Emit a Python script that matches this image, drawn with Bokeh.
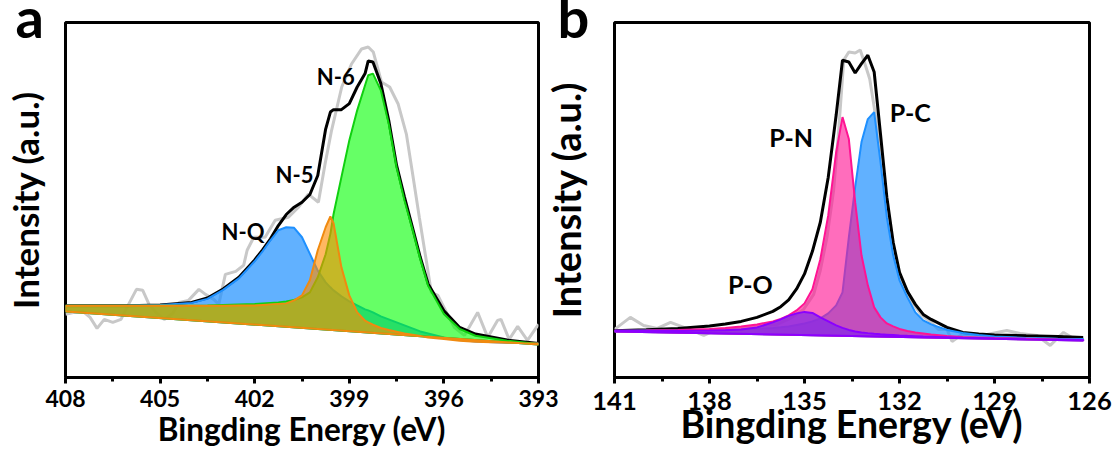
from bokeh.plotting import figure
from bokeh.models import Range1d, FixedTicker
from bokeh.layouts import row
from bokeh.embed import file_html
from bokeh.resources import INLINE
from bokeh.core.properties import value

FONT = "Lato"

# ---------------- Panel a : N 1s ----------------
a_raw_x = [408.0, 407.72, 407.45, 407.22, 407.0, 406.77, 406.5, 406.24, 406.0, 405.75,
           405.55, 405.35, 405.1, 404.87, 404.6, 404.4, 404.1, 403.77, 403.56, 403.3,
           403.14, 402.93, 402.6, 402.35, 402.24, 402.03, 401.67, 401.35, 400.93, 400.61,
           400.3, 399.98, 399.77, 399.56, 399.24, 398.93, 398.61, 398.4, 398.24, 397.98,
           397.72, 397.45, 397.19, 397.0, 396.78, 396.56, 396.4, 396.19, 395.87, 395.67,
           395.35, 394.93, 394.61, 394.3, 394.19, 393.93, 393.66, 393.35, 393.0]
a_raw_y = [63, 65, 66, 60, 49, 58, 55, 58, 73, 88,
           87, 73, 64, 58, 64, 75, 77, 88, 83, 78,
           73, 103, 106, 112, 127, 140, 140, 157, 160, 170,
           183, 175, 213, 247, 290, 313, 328, 330, 325, 295,
           290, 273, 243, 205, 160, 117, 85, 82, 62, 50,
           42, 65, 40, 57, 58, 38, 51, 37, 53]

a_fit_x = [408, 407, 406, 405, 404, 403.5, 403, 402.5, 402, 401.75,
           401.5, 401.25, 401, 400.75, 400.5, 400.25, 400, 399.75, 399.6, 399.5,
           399.25, 399, 398.75, 398.5, 398.4, 398.25, 398, 397.75, 397.5, 397.25,
           397, 396.75, 396.5, 396, 395.5, 395, 394, 393]
a_envelope = [71.7, 71.7, 71.7, 72.4, 75.0, 79.4, 88.4, 100.0, 117.4, 127.4,
              138.4, 151.7, 162.7, 170.0, 175.0, 182.7, 201.7, 248, 265, 267.4,
              267.4, 273.4, 290, 303.4, 316, 315, 293.4, 256.7, 211.7, 180.0,
              150.0, 120.0, 93.4, 66.7, 50.0, 43.4, 37.4, 34.0]
a_nq = [71.7, 71.7, 72, 72.5, 74.5, 78.5, 87.5, 99, 116, 126,
        137, 147, 150, 149.4, 140, 123.4, 106.7, 95, 90, 87,
        81, 76, 72, 68, 67, 65, 61, 58, 55, 52,
        49, 46, 44, 40, 37.5, 36, 34.7, 34]
a_n5 = [71.7, 71.7, 71.7, 71.7, 71.7, 71.7, 71.7, 72, 72, 72.5,
        73, 73.5, 74, 77, 82, 97, 127, 150, 160.7, 154,
        110, 82, 65, 56.7, 55, 52.7, 49.4, 47.4, 45.7, 44,
        42.7, 41.4, 40, 38.4, 36.7, 35.7, 34.7, 34]
a_n6 = [71.7, 71.7, 71.7, 71.7, 71.7, 72, 72.5, 73, 73.5, 74,
        74.5, 75, 76, 77.4, 80, 85, 100, 123, 143.4, 163,
        200, 236.7, 266.7, 291.7, 301.7, 303.4, 286.7, 253.4, 210.0, 176.7,
        148.4, 118.4, 91.7, 63.4, 48.4, 41.7, 36.7, 33.4]
a_bg_x = [408, 393]
a_bg_y = [66, 33]
a_labels = ["N-Q", "N-5", "N-6"]
a_lab_x = [402.37, 400.74, 399.43]
a_lab_y = [146, 203, 300]
a_ticks = [408, 405, 402, 399, 396, 393]
a_minor = [406.5, 403.5, 400.5, 397.5, 394.5]

# ---------------- Panel b : P 2p ----------------
b_raw_x = [141.0, 140.5, 140.08, 139.65, 139.23, 138.81, 138.18, 137.76, 136.92, 136.29,
           135.87, 135.45, 135.03, 134.71, 134.5, 134.29, 134.08, 133.92, 133.76, 133.6,
           133.4, 133.24, 133.06, 132.94, 132.7, 132.5, 132.3, 132.1, 131.9, 131.6,
           131.3, 131.0, 130.77, 130.5, 130.34, 130.08, 129.24, 128.61, 128.19, 127.66,
           127.24, 126.82, 126.5, 126.19]
b_raw_y = [48, 60, 52, 49, 55, 50, 42, 48, 49, 52,
           53, 59, 68, 83, 107, 140, 187, 247, 317, 325,
           324, 327, 310, 298, 250, 200, 150, 115, 92, 75,
           62, 55, 48, 48, 36, 42, 43, 47, 44, 42,
           32, 45, 39, 39]

b_fit_x = [141, 140, 139, 138, 137.5, 137, 136.5, 136, 135.75, 135.5,
           135.25, 135, 134.75, 134.5, 134.25, 134, 133.8, 133.6, 133.4, 133.2,
           133, 132.8, 132.6, 132.4, 132.2, 132, 131.75, 131.5, 131.25, 131,
           130.5, 130, 129.5, 129, 128, 127, 126.2]
b_envelope = [46.7, 47.7, 49, 51.4, 53.4, 56, 60, 66, 70.7, 77.4,
              88.4, 103.4, 126, 155, 200, 262, 316.7, 315, 304, 313.4,
              321.7, 305, 243, 180, 135, 105, 86, 73, 63, 58,
              50, 45, 43.5, 42.5, 41.7, 41, 40]
b_pc = [46.7, 46.8, 47, 47.3, 47.6, 48, 48.6, 49.5, 50.2, 51,
        52.5, 54, 56, 59, 64, 72, 85, 140, 190, 235,
        258, 265, 215, 160, 122, 97, 80, 65, 57, 53,
        47.5, 44.5, 42.5, 41, 39.5, 38.8, 38.4]
b_pn = [46.7, 47, 47.5, 48.5, 49.5, 51, 53, 56, 58.5, 62,
        67, 74, 88, 118, 162, 225, 260, 238, 175, 122,
        92, 70, 60, 54, 51, 48.5, 46.5, 45, 44, 43,
        41.5, 40.5, 40, 39.5, 38.8, 38, 37.5]
b_po = [46.7, 46.6, 46.6, 46.8, 47.2, 48, 50, 55, 58, 61.5,
        64, 65.5, 64.5, 60, 56, 52, 49.5, 47.5, 46, 45,
        44.3, 43.7, 43.2, 42.8, 42.4, 42, 41.6, 41.3, 41, 40.8,
        40.3, 39.8, 39.4, 39, 38.3, 37.8, 37.4]
b_bg_x = [141, 126.2]
b_bg_y = [46, 37]
b_labels = ["P-N", "P-O", "P-C"]
b_lab_x = [135.42, 136.71, 131.66]
b_lab_y = [240, 93, 265]
b_ticks = [141, 138, 135, 132, 129, 126]
b_minor = [139.5, 136.5, 133.5, 130.5, 127.5]


def make_panel(xr, width, mbl, mbr, ticks, minor, tick_px, tick_standoff, title_px,
               title_standoff, ylab_px, ylab_standoff, letter, letter_offset):
    p = figure(width=width, height=452, x_range=Range1d(*xr), y_range=Range1d(0, 354.4),
               output_backend="svg", toolbar_location=None,
               min_border_left=mbl, min_border_right=mbr,
               min_border_top=22, min_border_bottom=75)
    p.outline_line_color = "black"
    p.outline_line_width = 3
    p.outline_line_alpha = 1
    p.xgrid.grid_line_color = None
    p.ygrid.grid_line_color = None
    p.background_fill_color = "white"
    p.border_fill_color = "white"

    # panel letter as the plot title, hung from the top edge, left of the frame
    p.title.text = letter
    p.title.align = "left"
    p.title.vertical_align = "top"
    p.title.offset = letter_offset
    p.title.standoff = -80
    p.title.text_font = FONT
    p.title.text_font_style = "bold"
    p.title.text_font_size = "56px"
    p.title.text_line_height = 1.25
    p.title.text_color = "black"

    xa = p.xaxis[0]
    xa.ticker = FixedTicker(ticks=ticks, minor_ticks=minor)
    xa.axis_line_width = 3
    xa.axis_line_color = "black"
    xa.major_tick_line_width = 3
    xa.minor_tick_line_width = 3
    xa.major_tick_out = 6
    xa.major_tick_in = 0
    xa.minor_tick_out = 4
    xa.minor_tick_in = 0
    xa.major_label_text_font = FONT
    xa.major_label_text_font_style = "bold"
    xa.major_label_text_font_size = f"{tick_px}px"
    xa.major_label_text_color = "black"
    xa.major_label_standoff = tick_standoff
    xa.axis_label = "Bingding Energy (eV)"
    xa.axis_label_text_font = FONT
    xa.axis_label_text_font_style = "bold"
    xa.axis_label_text_font_size = f"{title_px}px"
    xa.axis_label_text_color = "black"
    xa.axis_label_standoff = title_standoff

    ya = p.yaxis[0]
    ya.ticker = FixedTicker(ticks=[])
    ya.axis_line_color = None
    ya.major_tick_line_color = None
    ya.minor_tick_line_color = None
    ya.major_tick_out = 0
    ya.major_tick_in = 0
    ya.major_label_standoff = 0
    ya.axis_label = "Intensity (a.u.)"
    ya.axis_label_text_font = FONT
    ya.axis_label_text_font_style = "bold"
    ya.axis_label_text_font_size = f"{ylab_px}px"
    ya.axis_label_text_color = "black"
    ya.axis_label_standoff = ylab_standoff
    return p


# ---------------- build panel a ----------------
pa = make_panel((408, 393), 562, 63, 24, a_ticks, a_minor, 23, 6, 31.5, 0,
                35, 20, "a", -50)
pa.line(a_raw_x, a_raw_y, line_color="#C8C8C8", line_width=3)
pa.line(a_fit_x, a_envelope, line_color="black", line_width=3)
for comp, fc, fa, lc in [(a_nq, "#1E90FF", 0.7, "#1E90FF"),
                         (a_n6, "#00FF00", 0.6, "#10D010"),
                         (a_n5, "#FF8C00", 0.62, "#F08A10")]:
    pa.patch(list(a_fit_x) + a_bg_x[::-1], list(comp) + a_bg_y[::-1],
             fill_color=fc, fill_alpha=fa, line_color=lc, line_width=2)
pa.text(x=a_lab_x, y=a_lab_y, text=a_labels, text_font=value(FONT),
        text_font_style="bold", text_font_size="22px", text_align="center",
        text_baseline="alphabetic", text_color="black")

# ---------------- build panel b ----------------
pb = make_panel((141, 126), 575, 76, 24, b_ticks, b_minor, 25.5, 8, 37.5, -12,
                38, 26, "b", -57)
pb.border_fill_color = None
pb.styles = {"margin-left": "-24px"}
pb.line(b_raw_x, b_raw_y, line_color="#C8C8C8", line_width=3)
pb.line(b_fit_x, b_envelope, line_color="black", line_width=3)
for comp, fc, fa, lc in [(b_pc, "#1E90FF", 0.7, "#1E90FF"),
                         (b_pn, "#FF1493", 0.62, "#FF1493"),
                         (b_po, "#8A2BE2", 0.8, "#8B00FF")]:
    pb.patch(list(b_fit_x) + b_bg_x[::-1], list(comp) + b_bg_y[::-1],
             fill_color=fc, fill_alpha=fa, line_color=lc, line_width=2)
pb.text(x=b_lab_x, y=b_lab_y, text=b_labels, text_font=value(FONT),
        text_font_style="bold", text_font_size="25px", text_align="center",
        text_baseline="alphabetic", text_color="black")

layout = row(pa, pb)
open("out.html", "w").write(file_html(layout, INLINE, title="XPS"))
